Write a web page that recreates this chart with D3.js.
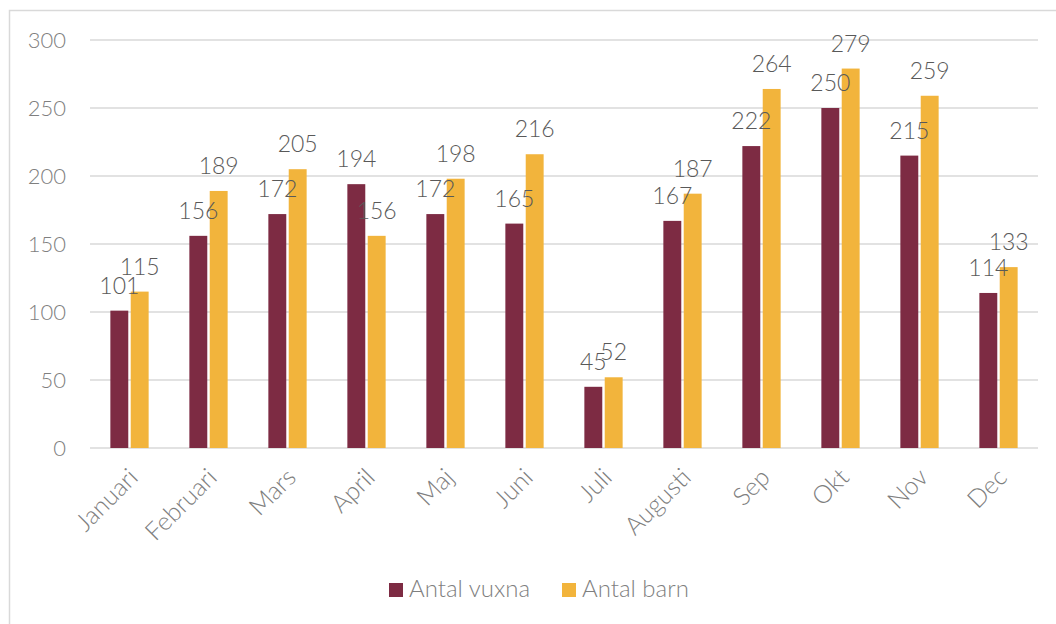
<!DOCTYPE html>
<html>
<head>
<meta charset="utf-8">
<script src="https://cdn.jsdelivr.net/npm/d3@7"></script>
<style>
  body { margin: 0; background: #fff; }
  svg { display: block; font-family: Lato, "Noto Sans", sans-serif; font-weight: 300; }
</style>
</head>
<body>
<svg id="chart" width="1056" height="624"></svg>
<script>
"use strict";

// Données
var months = ["Januari", "Februari", "Mars", "April", "Maj", "Juni", "Juli", "Augusti", "Sep", "Okt", "Nov", "Dec"];
var vuxna = [101, 156, 172, 194, 172, 165, 45, 167, 222, 250, 215, 114];
var barn = [115, 189, 205, 156, 198, 216, 52, 187, 264, 279, 259, 133];
var seriesNames = ["Antal vuxna", "Antal barn"];
var seriesColors = ["#7d2b43", "#f2b43c"];
var yTicks = [0, 50, 100, 150, 200, 250, 300];

var svg = d3.select("#chart");

// cadre du graphique (coupé à droite et en bas)
svg.append("rect")
  .attr("x", 9.5)
  .attr("y", 10.5)
  .attr("width", 1100)
  .attr("height", 700)
  .attr("fill", "#fff")
  .attr("stroke", "#d9d9d9")
  .attr("stroke-width", 1.5);

var mLeft = 90, mRight = 1038, mTop = 40, mBottom = 448;

var x = d3.scaleBand()
  .domain(months)
  .range([mLeft, mRight]);

var y = d3.scaleLinear()
  .domain([0, 300])
  .range([mBottom, mTop]);

var x1 = d3.scaleBand()
  .domain(seriesNames)
  .range([0, x.bandwidth()])
  .paddingInner(0.12)
  .paddingOuter(1.0);

var data = months.map(function (m, i) {
  return { month: m, values: [vuxna[i], barn[i]] };
});

// grille horizontale
svg.append("g")
  .attr("class", "grid")
  .selectAll("line")
  .data(yTicks)
  .enter()
  .append("line")
  .attr("x1", mLeft)
  .attr("x2", mRight)
  .attr("y1", function (d) { return y(d); })
  .attr("y2", function (d) { return y(d); })
  .attr("stroke", "#d9d9d9")
  .attr("stroke-width", 1.5);

// axe Y
var yAxis = svg.append("g")
  .attr("transform", "translate(" + (mLeft - 24) + ",0)")
  .call(d3.axisLeft(y).tickValues(yTicks).tickSize(0).tickPadding(0));
yAxis.select(".domain").remove();
yAxis.selectAll("text")
  .attr("font-size", 22)
  .attr("font-family", "Lato, sans-serif")
  .attr("fill", "#7f7f7f");

// barres
var groups = svg.append("g")
  .selectAll("g")
  .data(data)
  .enter()
  .append("g")
  .attr("transform", function (d) { return "translate(" + x(d.month) + ",0)"; });

groups.selectAll("rect")
  .data(function (d) { return d.values; })
  .enter()
  .append("rect")
  .attr("x", function (d, i) { return x1(seriesNames[i]); })
  .attr("width", x1.bandwidth())
  .attr("y", function (d) { return y(d); })
  .attr("height", function (d) { return y(0) - y(d); })
  .attr("fill", function (d, i) { return seriesColors[i]; });

groups.selectAll("text")
  .data(function (d) { return d.values; })
  .enter()
  .append("text")
  .attr("x", function (d, i) { return x1(seriesNames[i]) + x1.bandwidth() / 2; })
  .attr("y", function (d) { return y(d) - 17; })
  .attr("text-anchor", "middle")
  .attr("font-size", 23)
  .attr("fill", "#595959")
  .text(function (d) { return d; });

// axe X
var xAxis = svg.append("g")
  .attr("transform", "translate(0," + mBottom + ")")
  .call(d3.axisBottom(x).tickSize(0).tickPadding(0));
xAxis.select(".domain").remove();
xAxis.selectAll("text")
  .attr("font-size", 25)
  .attr("font-family", "Lato, sans-serif")
  .attr("fill", "#7f7f7f")
  .attr("text-anchor", "end")
  .attr("dy", 0)
  .attr("transform", "translate(10,31) rotate(-45)");

// légende
var legend = svg.append("g")
  .attr("class", "legend")
  .attr("transform", "translate(389,583)");

var legendX = [0, 173];

legend.selectAll("rect")
  .data(seriesNames)
  .enter()
  .append("rect")
  .attr("x", function (d, i) { return legendX[i]; })
  .attr("y", 0)
  .attr("width", 14)
  .attr("height", 14)
  .attr("fill", function (d, i) { return seriesColors[i]; });

legend.selectAll("text")
  .data(seriesNames)
  .enter()
  .append("text")
  .attr("x", function (d, i) { return legendX[i] + 20; })
  .attr("y", 14)
  .attr("font-size", 24)
  .attr("fill", "#7f7f7f")
  .text(function (d) { return d; });
</script>
</body>
</html>
